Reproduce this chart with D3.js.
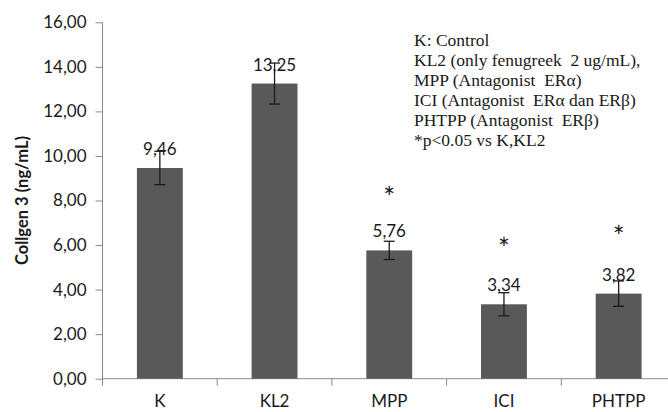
<!DOCTYPE html>
<html>
<head>
<meta charset="utf-8">
<script src="https://cdn.jsdelivr.net/npm/d3@7"></script>
<style>
  body { margin: 0; background: #fff; }
  svg { display: block; }
</style>
</head>
<body>
<svg width="668" height="412"></svg>
<script>
// data
let groups = ['K', 'KL2', 'MPP', 'ICI', 'PHTPP'];
let means = [9.46, 13.25, 5.76, 3.34, 3.82];
let errors = [0.75, 0.92, 0.41, 0.52, 0.57];
let significant = [false, false, true, true, true];
let yTicks = [0, 2, 4, 6, 8, 10, 12, 14, 16];
let notes = [
    'K: Control',
    'KL2 (only fenugreek  2 ug/mL),',
    'MPP (Antagonist  ERα)',
    'ICI (Antagonist  ERα dan ERβ)',
    'PHTPP (Antagonist  ERβ)',
    '*p<0.05 vs K,KL2'
];

let svg = d3.select('svg');
let sans = 'Lato, "Open Sans", sans-serif';
let axisColor = '#8a8a8a';

let x = d3.scaleBand().domain(groups).range([102.5, 676]).paddingInner(0.6).paddingOuter(0.3);
let y = d3.scaleLinear().domain([0, 16]).range([378.7, 22.3]);

function fmt(v) {
    return d3.format('.2f')(v).replace('.', ',');
}

// y axis
let yAxis = svg.append('g').attr('transform', 'translate(102.5,0)')
    .call(d3.axisLeft(y).tickValues(yTicks).tickFormat(fmt).tickSize(7).tickPadding(9));
yAxis.select('.domain').attr('d', 'M0,' + y(16) + 'V' + (y(0) + 7));

// x axis with ticks at band boundaries
let xAxis = svg.append('g').attr('transform', 'translate(0,' + y(0) + ')')
    .call(d3.axisBottom(x).tickSize(0).tickPadding(16));
xAxis.select('.domain').attr('d', 'M102.5,0H676');
xAxis.selectAll('.bound').data(groups.slice(1)).enter().append('line')
    .attr('class', 'bound')
    .attr('x1', function(d) {return x(d) - x.step() * x.paddingInner() / 2})
    .attr('x2', function(d) {return x(d) - x.step() * x.paddingInner() / 2})
    .attr('y1', 0).attr('y2', 7)
    .attr('stroke', axisColor);

svg.selectAll('.domain, .tick line').attr('stroke', axisColor);
svg.selectAll('.tick text').attr('fill', '#1a1a1a').style('font-family', sans).style('font-size', '17px');

// bars
let rows = groups.map(function(g, i) {
    return {name: g, mean: means[i], err: errors[i], sig: significant[i]};
});

svg.selectAll('rect.bar').data(rows).enter().append('rect')
    .attr('class', 'bar')
    .attr('x', function(d) {return x(d.name)})
    .attr('width', x.bandwidth())
    .attr('y', function(d) {return y(d.mean)})
    .attr('height', function(d) {return y(0) - y(d.mean)})
    .attr('fill', '#595959');

// error bars
let eb = svg.selectAll('g.err').data(rows).enter().append('g')
    .attr('class', 'err')
    .attr('transform', function(d) {return 'translate(' + (x(d.name) + x.bandwidth() / 2) + ',0)'})
    .attr('stroke', '#1a1a1a').attr('stroke-width', 1.3);
eb.append('line').attr('y1', function(d) {return y(d.mean + d.err)}).attr('y2', function(d) {return y(d.mean - d.err)});
eb.append('line').attr('x1', -5.5).attr('x2', 5.5)
    .attr('y1', function(d) {return y(d.mean + d.err)}).attr('y2', function(d) {return y(d.mean + d.err)});
eb.append('line').attr('x1', -5.5).attr('x2', 5.5)
    .attr('y1', function(d) {return y(d.mean - d.err)}).attr('y2', function(d) {return y(d.mean - d.err)});

// value labels
svg.selectAll('text.val').data(rows).enter().append('text')
    .attr('class', 'val')
    .attr('x', function(d) {return x(d.name) + x.bandwidth() / 2})
    .attr('y', function(d) {return y(d.mean) - 13})
    .attr('text-anchor', 'middle')
    .style('font-family', sans).style('font-size', '17px').attr('fill', '#1a1a1a')
    .text(function(d) {return fmt(d.mean)});

// significance stars
svg.selectAll('text.star').data(rows.filter(function(d) {return d.sig})).enter().append('text')
    .attr('class', 'star')
    .attr('x', function(d) {return x(d.name) + x.bandwidth() / 2})
    .attr('y', function(d) {return y(d.mean + d.err) - 50 + 16.5})
    .attr('text-anchor', 'middle')
    .style('font-family', sans).style('font-size', '28px').attr('fill', '#1a1a1a')
    .text('*');

// y axis title
svg.append('text')
    .attr('transform', 'translate(28,' + (y(0) + y(16)) / 2 + ') rotate(-90)')
    .attr('text-anchor', 'middle')
    .style('font-family', sans).style('font-size', '16.5px').style('font-weight', 'bold').attr('fill', '#1a1a1a')
    .text('Collgen 3 (ng/mL)');

// notes block
svg.append('g').selectAll('text').data(notes).enter().append('text')
    .attr('x', 414)
    .attr('y', function(d, i) {return 45.7 + i * 20.1})
    .style('font-family', '"Liberation Serif", "Times New Roman", serif').style('font-size', '17.5px')
    .style('white-space', 'pre').attr('fill', '#1a1a1a')
    .text(function(d) {return d});
</script>
</body>
</html>
